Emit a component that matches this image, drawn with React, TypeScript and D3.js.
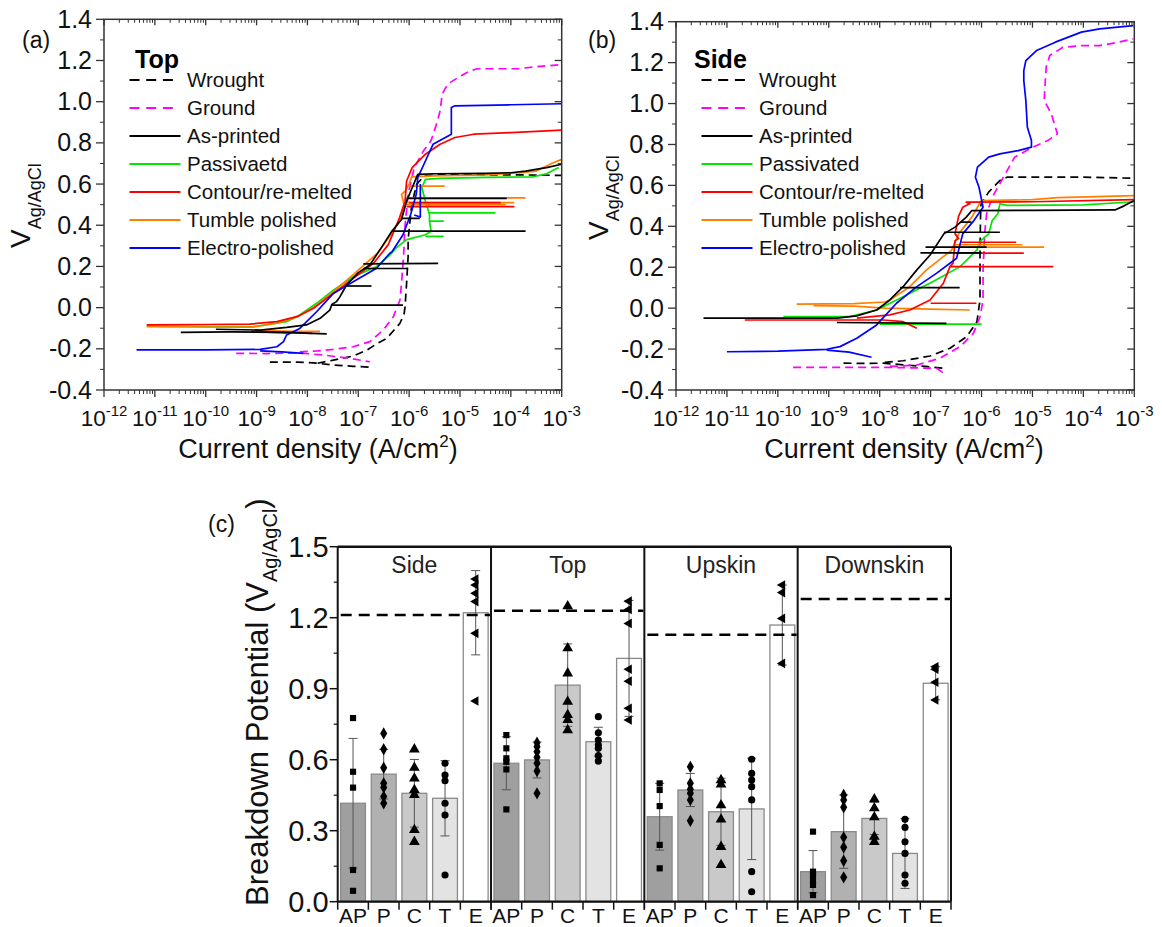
import React from "react";
import * as d3 from "d3";

type Pt = [number, number]; // [log10(current density), potential V]
type Seg = Pt[];

// ---------------- Panel (a) : Top ----------------
const topWrought: Seg[] = [
  [[-8.74,-0.265],[-8.2,-0.265],[-7.88,-0.268],[-7.49,-0.279],[-7.1,-0.285],[-6.71,-0.29]],
  [[-7.8,-0.27],[-7.49,-0.255],[-7.1,-0.235],[-6.83,-0.206],[-6.6,-0.17],[-6.44,-0.149],[-6.3,-0.11],[-6.18,-0.076],[-6.1,-0.03],[-6.08,0.004],[-6.05,0.118],[-6.02,0.247],[-6.02,0.33],[-5.95,0.5],[-5.85,0.6],[-5.7,0.64],[-5.5,0.645],[-4,0.645],[-3,0.642]],
];
const topGround: Seg[] = [
  [[-9.4,-0.222],[-8.8,-0.223],[-8.15,-0.22],[-7.7,-0.23],[-7.2,-0.245],[-6.77,-0.263]],
  [[-8.15,-0.215],[-7.8,-0.21],[-7.49,-0.203],[-7.1,-0.19],[-6.77,-0.165],[-6.51,-0.109],[-6.31,-0.044],[-6.18,0.037],[-6.15,0.118],[-6.11,0.247],[-6.08,0.4],[-6.02,0.55],[-5.9,0.68],[-5.72,0.76],[-5.57,0.81],[-5.45,0.9],[-5.39,0.956],[-5.35,1.037],[-5.24,1.086],[-5.02,1.12],[-4.8,1.15],[-4.66,1.16],[-3.86,1.16],[-3.5,1.17],[-3,1.18]],
];
const topAsPrinted: Seg[] = [
  [[-10.49,-0.12],[-9.5,-0.118],[-8.5,-0.12],[-7.62,-0.127]],
  [[-9.8,-0.105],[-8.93,-0.109],[-8.41,-0.096],[-8.02,-0.084],[-7.75,-0.052],[-7.56,-0.012],[-7.52,0.015],[-7.43,0.029],[-7.36,0.053],[-7.23,0.11],[-7.0,0.17],[-6.77,0.208],[-6.55,0.29],[-6.34,0.371],[-6.15,0.428],[-6.05,0.517],[-5.94,0.582],[-5.83,0.647],[-5.5,0.65],[-4.5,0.652],[-4,0.655],[-3.71,0.663],[-3.3,0.68],[-3,0.696]],
  [[-7.52,0.012],[-6.12,0.012]],
  [[-7.23,0.105],[-6.74,0.105]],
  [[-6.9,0.212],[-5.43,0.215]],
  [[-6.9,0.19],[-6.02,0.19]],
  [[-6.34,0.371],[-3.71,0.371]],
  [[-6.15,0.433],[-5.79,0.433]],
  [[-6.05,0.53],[-4.08,0.53]],
];
const topPassivated: Seg[] = [
  [[-11.16,-0.09],[-10,-0.092],[-9.06,-0.093],[-8.41,-0.068],[-8.15,-0.036],[-7.82,0.021],[-7.49,0.085],[-7.1,0.15],[-6.64,0.199],[-6.38,0.255],[-6.26,0.289],[-6.05,0.33],[-5.68,0.354],[-5.57,0.371],[-5.6,0.42],[-5.6,0.452],[-5.68,0.517],[-5.75,0.582],[-5.68,0.623],[-5.4,0.628],[-4.5,0.632],[-3.57,0.635],[-3.3,0.65],[-3.06,0.68]],
  [[-9.1,-0.115],[-8.4,-0.125]],
  [[-5.68,0.346],[-5.32,0.346]],
  [[-5.6,0.42],[-5.32,0.42]],
  [[-5.6,0.46],[-4.3,0.46]],
  [[-5.65,0.5],[-4.6,0.5]],
];
const topContour: Seg[] = [
  [[-11.16,-0.084],[-10,-0.082],[-9.13,-0.08],[-8.6,-0.068],[-8.21,-0.044],[-7.88,-0.003],[-7.49,0.069],[-7.1,0.142],[-6.7,0.215],[-6.41,0.306],[-6.19,0.436],[-6.08,0.517],[-6.05,0.615],[-5.94,0.68],[-5.68,0.745],[-5.39,0.793],[-5.1,0.826],[-4.73,0.842],[-4,0.85],[-3,0.862]],
  [[-9.1,-0.115],[-8.3,-0.12],[-7.9,-0.125]],
  [[-6.05,0.49],[-3.93,0.49]],
  [[-6.0,0.51],[-4.2,0.51]],
];
const topTumble: Seg[] = [
  [[-11.16,-0.092],[-10,-0.094],[-9.1,-0.095],[-8.6,-0.075],[-8.2,-0.045],[-7.85,0.005],[-7.5,0.075],[-7.1,0.16],[-6.85,0.215],[-6.6,0.27],[-6.4,0.34],[-6.19,0.42],[-6.1,0.5],[-6.15,0.55],[-6.08,0.566],[-6.0,0.6],[-5.95,0.635],[-5.5,0.64],[-4.5,0.645],[-3.8,0.655],[-3.5,0.663],[-3.2,0.7],[-3,0.72]],
  [[-9.0,-0.11],[-8.3,-0.115],[-7.75,-0.115]],
  [[-6.05,0.533],[-3.71,0.533]],
  [[-6.05,0.51],[-3.93,0.51]],
  [[-6.05,0.5],[-4.1,0.5]],
  [[-6.0,0.59],[-5.3,0.59]],
];
const topElectro: Seg[] = [
  [[-11.36,-0.205],[-10,-0.205],[-8.93,-0.203],[-8.6,-0.19],[-8.47,-0.165],[-8.41,-0.133],[-8.15,-0.101],[-7.82,-0.02],[-7.49,0.069],[-7.1,0.126],[-6.64,0.191],[-6.38,0.264],[-6.34,0.27],[-6.12,0.354],[-5.97,0.452],[-5.86,0.55],[-5.83,0.631],[-5.68,0.712],[-5.53,0.793],[-5.17,0.842],[-5.17,0.972],[-5.1,0.98],[-4,0.985],[-3,0.99]],
  [[-8.93,-0.21],[-8.5,-0.215],[-8.08,-0.222]],
  [[-5.9,0.45],[-5.78,0.44],[-5.78,0.6]],
];

// ---------------- Panel (b) : Side ----------------
const sideWrought: Seg[] = [
  [[-8.71,-0.269],[-8.3,-0.27],[-7.93,-0.269],[-7.54,-0.277],[-7.1,-0.285],[-6.75,-0.294]],
  [[-7.9,-0.265],[-7.54,-0.257],[-7.01,-0.234],[-6.62,-0.196],[-6.29,-0.139],[-6.09,-0.066],[-6.03,0.04],[-6.03,0.154],[-6.03,0.265],[-6.02,0.445],[-6.01,0.51],[-5.86,0.567],[-5.64,0.624],[-5.5,0.64],[-4,0.64],[-3,0.635]],
];
const sideGround: Seg[] = [
  [[-9.7,-0.289],[-8.8,-0.289],[-7.93,-0.289],[-7.3,-0.292],[-6.88,-0.294],[-6.75,-0.317]],
  [[-7.8,-0.285],[-7.27,-0.278],[-6.82,-0.245],[-6.42,-0.188],[-6.16,-0.123],[-6.03,-0.042],[-5.97,0.04],[-5.97,0.203],[-5.95,0.28],[-5.94,0.363],[-5.9,0.461],[-5.79,0.542],[-5.57,0.64],[-5.35,0.738],[-4.99,0.787],[-4.7,0.819],[-4.51,0.852],[-4.55,0.884],[-4.63,0.95],[-4.77,1.015],[-4.75,1.1],[-4.73,1.178],[-4.66,1.235],[-4.4,1.275],[-4.04,1.283],[-3.68,1.283],[-3.31,1.3],[-3.02,1.316]],
];
const sideAsPrinted: Seg[] = [
  [[-11.46,-0.049],[-10,-0.049],[-8.84,-0.049],[-8.45,-0.038],[-8.06,-0.009],[-7.8,0.04],[-7.54,0.105],[-7.27,0.187],[-7.01,0.26],[-6.74,0.363],[-6.52,0.396],[-6.3,0.445],[-6.19,0.477],[-5,0.478],[-3.38,0.48],[-3.2,0.5],[-3,0.526]],
  [[-8.84,-0.07],[-6.69,-0.074]],
  [[-7.6,0.1],[-6.43,0.1]],
  [[-7.2,0.27],[-6.0,0.27]],
  [[-7.1,0.298],[-5.9,0.298]],
  [[-6.74,0.371],[-5.64,0.371]],
  [[-6.4,0.42],[-6.2,0.42]],
];
const sidePassivated: Seg[] = [
  [[-9.89,-0.041],[-9,-0.041],[-8.58,-0.041],[-8.06,-0.009],[-7.54,0.056],[-6.95,0.13],[-6.42,0.203],[-6.09,0.285],[-6.01,0.331],[-5.86,0.363],[-5.79,0.428],[-5.68,0.461],[-5.64,0.51],[-5.5,0.502],[-4,0.505],[-3,0.52]],
  [[-8.0,-0.078],[-6.0,-0.078]],
];
const sideContour: Seg[] = [
  [[-10.65,-0.058],[-9,-0.058],[-7.93,-0.058],[-7.54,-0.066],[-7.27,-0.098]],
  [[-8.45,-0.049],[-7.8,-0.033],[-7.41,-0.009],[-7.01,0.04],[-6.75,0.122],[-6.62,0.203],[-6.56,0.22],[-6.52,0.33],[-6.45,0.34],[-6.52,0.363],[-6.45,0.45],[-6.37,0.493],[-6.23,0.51],[-6.3,0.518],[-5,0.52],[-3,0.53]],
  [[-7.0,0.024],[-6.1,0.024]],
  [[-6.62,0.203],[-4.59,0.203]],
  [[-6.5,0.269],[-5.17,0.269]],
  [[-6.4,0.322],[-5.32,0.322]],
];
const sideTumble: Seg[] = [
  [[-9.63,0.02],[-8.5,0.022],[-7.9,0.03],[-7.8,0.04],[-7.41,0.105],[-7.08,0.187],[-6.75,0.252],[-6.59,0.282],[-6.45,0.363],[-6.19,0.445],[-6.08,0.493],[-6.0,0.526],[-5,0.53],[-4.5,0.54],[-3,0.55]],
  [[-9.3,0.012],[-8.5,0.01],[-7.9,0.0],[-7.0,-0.005],[-6.23,-0.009]],
  [[-6.6,0.298],[-4.77,0.298]],
  [[-6.5,0.31],[-5.2,0.31]],
];
const sideElectro: Seg[] = [
  [[-11.0,-0.213],[-10,-0.21],[-9.04,-0.201],[-8.78,-0.188],[-8.45,-0.147],[-8.06,-0.082],[-7.67,0.024],[-7.27,0.105],[-6.88,0.171],[-6.49,0.244],[-6.37,0.363],[-6.15,0.428],[-5.97,0.493],[-6.05,0.591],[-6.12,0.64],[-6.08,0.689],[-5.86,0.738],[-5.64,0.754],[-5.28,0.77],[-5.02,0.787],[-5.02,0.819],[-5.1,0.884],[-5.13,1.015],[-5.17,1.112],[-5.17,1.161],[-5.13,1.21],[-4.92,1.259],[-4.55,1.3],[-4.04,1.349],[-3.68,1.365],[-3.02,1.381]],
  [[-9.04,-0.205],[-8.6,-0.215],[-8.16,-0.24]],
];

const xDecades = [-12, -11, -10, -9, -8, -7, -6, -5, -4, -3];
const yTicksIV = [-0.4, -0.2, 0, 0.2, 0.4, 0.6, 0.8, 1.0, 1.2, 1.4];
const legendTop = ["Wrought", "Ground", "As-printed", "Passivaetd", "Contour/re-melted", "Tumble polished", "Electro-polished"];
const legendSide = ["Wrought", "Ground", "As-printed", "Passivated", "Contour/re-melted", "Tumble polished", "Electro-polished"];

// ---------------- Panel (c) ----------------
const facetNames = ["Side", "Top", "Upskin", "Downskin"];
const barCats = ["AP", "P", "C", "T", "E"];
const sideMeans = [0.416, 0.539, 0.458, 0.437, 1.221];
const topMeans = [0.585, 0.599, 0.915, 0.676, 1.028];
const upskinMeans = [0.359, 0.472, 0.38, 0.392, 1.169];
const downskinMeans = [0.127, 0.296, 0.352, 0.204, 0.923];
const sideSD = [0.274, 0.105, 0.143, 0.159, 0.178];
const topSD = [0.112, 0.076, 0.174, 0.061, 0.245];
const upskinSD = [0.141, 0.07, 0.142, 0.214, 0.169];
const downskinSD = [0.089, 0.155, 0.068, 0.148, 0.07];
const wroughtRef = [1.211, 1.229, 1.128, 1.279];
const sidePts = [
  [0.776, 0.549, 0.482, 0.134, 0.046],
  [0.711, 0.644, 0.566, 0.5, 0.483, 0.444, 0.416],
  [0.644, 0.566, 0.521, 0.472, 0.451, 0.303, 0.253],
  [0.585, 0.535, 0.511, 0.416, 0.366, 0.113],
  [1.363, 1.338, 1.303, 1.268, 1.134, 0.848],
];
const topPts = [
  [0.704, 0.648, 0.606, 0.591, 0.559, 0.39],
  [0.672, 0.655, 0.634, 0.61, 0.585, 0.552, 0.458],
  [1.249, 1.071, 0.965, 0.845, 0.789, 0.768, 0.725],
  [0.782, 0.714, 0.683, 0.662, 0.648, 0.617, 0.594],
  [1.27, 1.235, 1.176, 0.982, 0.932, 0.817, 0.768],
];
const upskinPts = [
  [0.5, 0.472, 0.404, 0.24, 0.141],
  [0.57, 0.5, 0.475, 0.458, 0.43, 0.342],
  [0.514, 0.496, 0.408, 0.348, 0.232, 0.155],
  [0.602, 0.542, 0.514, 0.486, 0.43, 0.127, 0.042],
  [1.338, 1.306, 1.197, 1.007],
];
const downskinPts = [
  [0.296, 0.127, 0.113, 0.089, 0.071, 0.028],
  [0.451, 0.43, 0.399, 0.272, 0.23, 0.173, 0.103],
  [0.433, 0.395, 0.357, 0.275, 0.253],
  [0.348, 0.314, 0.253, 0.204, 0.113, 0.078],
  [0.993, 0.982, 0.927, 0.852],
];
const bpTicks = [0, 0.3, 0.6, 0.9, 1.2, 1.5];

// ---------------- styles ----------------
const FONT = "Liberation Sans, Arial, sans-serif";
const seriesStyle = [
  { color: "#000000", dashed: true },
  { color: "#ff00ff", dashed: true },
  { color: "#000000", dashed: false },
  { color: "#00e600", dashed: false },
  { color: "#ff0000", dashed: false },
  { color: "#ff8000", dashed: false },
  { color: "#0000ff", dashed: false },
];
const drawOrder = [0, 1, 3, 5, 4, 6, 2];
const barFills = ["#9f9f9f", "#b1b1b1", "#c9c9c9", "#e3e3e3", "#ffffff"];

type Box = { x0: number; x1: number; y0: number; y1: number };

function LogPanel(props: {
  id: string; box: Box; data: Seg[][]; legend: string[]; legendTitle: string; letter: string;
  letterX: number; titleX: number; xTitleCenter: number;
}) {
  const { box: b, data, legend } = props;
  const x = d3.scaleLog().domain([1e-12, 1e-3]).range([b.x0, b.x1]);
  const y = d3.scaleLinear().domain([-0.4, 1.4]).range([b.y1, b.y0]);
  const line = d3.line<Pt>().x((p) => x(Math.pow(10, p[0]))).y((p) => y(p[1]));
  const minorX: number[] = [];
  for (let e = -12; e < -3; e++) for (let k = 2; k <= 9; k++) minorX.push(x(k * Math.pow(10, e)));
  const minorY = d3.range(-0.3, 1.4, 0.2);
  const tc = "#333";
  return (
    <g>
      <defs>
        <clipPath id={props.id}>
          <rect x={b.x0} y={b.y0} width={b.x1 - b.x0} height={b.y1 - b.y0} />
        </clipPath>
      </defs>
      <g clipPath={`url(#${props.id})`}>
        {drawOrder.map((si) =>
          data[si].map((seg, j) => (
            <path key={`${si}-${j}`} d={line(seg) || ""} fill="none" stroke={seriesStyle[si].color}
              strokeWidth={1.7} strokeDasharray={seriesStyle[si].dashed ? "8,5" : undefined} strokeLinejoin="round" />
          ))
        )}
      </g>
      <rect x={b.x0} y={b.y0} width={b.x1 - b.x0} height={b.y1 - b.y0} fill="none" stroke={tc} strokeWidth={1.5} />
      {xDecades.map((e) => {
        const xx = x(Math.pow(10, e));
        return (
          <g key={e}>
            <line x1={xx} x2={xx} y1={b.y1} y2={b.y1 + 7} stroke={tc} strokeWidth={1.3} />
            <line x1={xx} x2={xx} y1={b.y0} y2={b.y0 + 6} stroke={tc} strokeWidth={1.3} />
            <text x={xx} y={426} textAnchor="middle" style={{ fontFamily: FONT }} fontSize={22.5} fill="#111">
              <tspan>10</tspan>
              <tspan dy={-10} fontSize={15}>{`${e}`}</tspan>
            </text>
          </g>
        );
      })}
      {minorX.map((xx, i) => (
        <g key={"mx" + i}>
          <line x1={xx} x2={xx} y1={b.y1} y2={b.y1 + 4} stroke={tc} strokeWidth={1} />
          <line x1={xx} x2={xx} y1={b.y0} y2={b.y0 + 3.5} stroke={tc} strokeWidth={1} />
        </g>
      ))}
      {yTicksIV.map((v) => (
        <g key={v}>
          <line x1={b.x0 - 8} x2={b.x0} y1={y(v)} y2={y(v)} stroke={tc} strokeWidth={1.3} />
          <line x1={b.x1 - 7} x2={b.x1} y1={y(v)} y2={y(v)} stroke={tc} strokeWidth={1.3} />
          <text x={b.x0 - 12} y={y(v) + 8.5} textAnchor="end" style={{ fontFamily: FONT }} fontSize={25} fill="#111">
            {v.toFixed(1)}
          </text>
        </g>
      ))}
      {minorY.map((v, i) => (
        <g key={"my" + i}>
          <line x1={b.x0 - 4} x2={b.x0} y1={y(v)} y2={y(v)} stroke={tc} strokeWidth={1} />
          <line x1={b.x1 - 4} x2={b.x1} y1={y(v)} y2={y(v)} stroke={tc} strokeWidth={1} />
        </g>
      ))}
      <text x={props.titleX} y={68} style={{ fontFamily: FONT }} fontSize={25} fontWeight="bold" fill="#000">
        {props.legendTitle}
      </text>
      {legend.map((lab, i) => {
        const ly = 80 + i * 28;
        const st = seriesStyle[i];
        const lx = b.x0 + 25.5;
        return (
          <g key={lab}>
            <line x1={lx} x2={lx + (st.dashed ? 44 : 51)} y1={ly} y2={ly} stroke={st.color} strokeWidth={2}
              strokeDasharray={st.dashed ? "10,6.7" : undefined} />
            <text x={b.x0 + 83} y={ly + 7} style={{ fontFamily: FONT }} fontSize={20.5} fill="#111">{lab}</text>
          </g>
        );
      })}
      <text x={props.letterX} y={48} style={{ fontFamily: FONT }} fontSize={23} fill="#111">{props.letter}</text>
      <text x={props.xTitleCenter} y={458} textAnchor="middle" style={{ fontFamily: FONT }} fontSize={27} fill="#111">
        <tspan>Current density (A/cm</tspan>
        <tspan dy={-11} fontSize={17}>2</tspan>
        <tspan dy={11}>)</tspan>
      </text>
    </g>
  );
}

function YTitle({ x, yStart }: { x: number; yStart: number }) {
  return (
    <text transform={`translate(${x},${yStart}) rotate(-90)`} style={{ fontFamily: FONT }} fontSize={28} fill="#111">
      <tspan>V</tspan>
      <tspan dy={11} fontSize={18}>Ag/AgCl</tspan>
    </text>
  );
}

function BarPanel() {
  const X0 = 337.7, X1 = 951, Y0 = 546.7, Y1 = 901.7;
  const fx = d3.scaleBand<string>().domain(facetNames).range([X0, X1]).padding(0);
  const y = d3.scaleLinear().domain([0, 1.5]).range([Y1, Y0]);
  const means = [sideMeans, topMeans, upskinMeans, downskinMeans];
  const sds = [sideSD, topSD, upskinSD, downskinSD];
  const pts = [sidePts, topPts, upskinPts, downskinPts];
  const symbols = [
    d3.symbol().type(d3.symbolSquare).size(38)(),
    d3.symbol().type(d3.symbolDiamond).size(44)(),
    d3.symbol().type(d3.symbolTriangle).size(50)(),
    d3.symbol().type(d3.symbolCircle).size(40)(),
    d3.symbol().type(d3.symbolTriangle).size(40)(),
  ];
  const minorY = d3.range(0.15, 1.5, 0.3);
  return (
    <g>
      {facetNames.map((f, fi) => {
        const fx0 = fx(f)!;
        const fx1 = fx0 + fx.bandwidth();
        const bx = d3.scaleBand<string>().domain(barCats).range([fx0, fx1]).paddingInner(0.19).paddingOuter(0.095);
        const step = (fx1 - fx0) / barCats.length;
        return (
          <g key={f}>
            {barCats.map((c, ci) => {
              const m = means[fi][ci];
              const sd = sds[fi][ci];
              const cx = bx(c)! + bx.bandwidth() / 2;
              return (
                <g key={c}>
                  <rect x={bx(c)!} y={y(m)} width={bx.bandwidth()} height={Y1 - y(m)} fill={barFills[ci]} stroke="#8a8a8a" strokeWidth={1.3} />
                  <line x1={cx} x2={cx} y1={y(m + sd)} y2={y(Math.max(0, m - sd))} stroke="#555" strokeWidth={1} />
                  <line x1={cx - 4.5} x2={cx + 4.5} y1={y(m + sd)} y2={y(m + sd)} stroke="#555" strokeWidth={1} />
                  {m - sd > 0 && <line x1={cx - 4.5} x2={cx + 4.5} y1={y(m - sd)} y2={y(m - sd)} stroke="#555" strokeWidth={1} />}
                  {pts[fi][ci].map((v, k) => (
                    <path key={k} d={symbols[ci] || ""} fill="#000"
                      transform={`translate(${cx},${y(v)})${ci === 4 ? " rotate(-90)" : ""}`} />
                  ))}
                </g>
              );
            })}
            <line x1={fx0 + 3} x2={fx1 - 1} y1={y(wroughtRef[fi])} y2={y(wroughtRef[fi])} stroke="#000" strokeWidth={2.5} strokeDasharray="11,7" />
            <text x={(fx0 + fx1) / 2} y={573} textAnchor="middle" style={{ fontFamily: FONT }} fontSize={23} fill="#222">{f}</text>
            {d3.range(barCats.length + 1).map((i) => (
              <line key={i} x1={fx0 + i * step} x2={fx0 + i * step} y1={Y1} y2={Y1 + 8} stroke="#111" strokeWidth={1.5} />
            ))}
            {barCats.map((c) => (
              <text key={"l" + c} x={bx(c)! + bx.bandwidth() / 2} y={923} textAnchor="middle" style={{ fontFamily: FONT }} fontSize={21} fill="#111">{c}</text>
            ))}
          </g>
        );
      })}
      <line x1={X0} x2={X1} y1={Y0} y2={Y0} stroke="#111" strokeWidth={2.5} />
      <line x1={X0} x2={X1} y1={Y1} y2={Y1} stroke="#111" strokeWidth={2.2} />
      {facetNames.map((f) => (
        <line key={"v" + f} x1={fx(f)!} x2={fx(f)!} y1={Y0} y2={Y1} stroke="#111" strokeWidth={2} />
      ))}
      <line x1={X1} x2={X1} y1={Y0} y2={Y1} stroke="#111" strokeWidth={2} />
      {bpTicks.map((v) => (
        <g key={v}>
          <line x1={X0 - 8} x2={X0} y1={y(v)} y2={y(v)} stroke="#111" strokeWidth={1.5} />
          <text x={X0 - 9} y={y(v) + 10} textAnchor="end" style={{ fontFamily: FONT }} fontSize={29} fill="#111">{v.toFixed(1)}</text>
        </g>
      ))}
      {minorY.map((v, i) => (
        <line key={"m" + i} x1={X0 - 4} x2={X0} y1={y(v)} y2={y(v)} stroke="#111" strokeWidth={1.2} />
      ))}
      <text transform={`translate(268,906) rotate(-90)`} style={{ fontFamily: FONT }} fontSize={31} fill="#111">
        <tspan>Breakdown Potential (V</tspan>
        <tspan dy={9} fontSize={20}>Ag/AgCl</tspan>
        <tspan dy={-9}>)</tspan>
      </text>
      <text x={208} y={532} style={{ fontFamily: FONT }} fontSize={23} fill="#111">(c)</text>
    </g>
  );
}

export default function App() {
  const topData = [topWrought, topGround, topAsPrinted, topPassivated, topContour, topTumble, topElectro];
  const sideData = [sideWrought, sideGround, sideAsPrinted, sidePassivated, sideContour, sideTumble, sideElectro];
  return (
    <div style={{ position: "absolute", left: 0, top: 0 }}>
      <svg width={1162} height={927} viewBox="0 0 1162 927" style={{ display: "block", background: "#fff" }}>
        <rect x={0} y={0} width={1162} height={927} fill="#fff" />
        <LogPanel id="clipA" box={{ x0: 104, x1: 561.7, y0: 19.3, y1: 390 }} data={topData} legend={legendTop}
          legendTitle="Top" letter="(a)" letterX={22} titleX={135} xTitleCenter={318} />
        <YTitle x={29.6} yStart={248} />
        <LogPanel id="clipB" box={{ x0: 676, x1: 1134.3, y0: 21.7, y1: 390 }} data={sideData} legend={legendSide}
          legendTitle="Side" letter="(b)" letterX={588} titleX={694} xTitleCenter={904} />
        <YTitle x={607.8} yStart={240} />
        <BarPanel />
      </svg>
    </div>
  );
}
